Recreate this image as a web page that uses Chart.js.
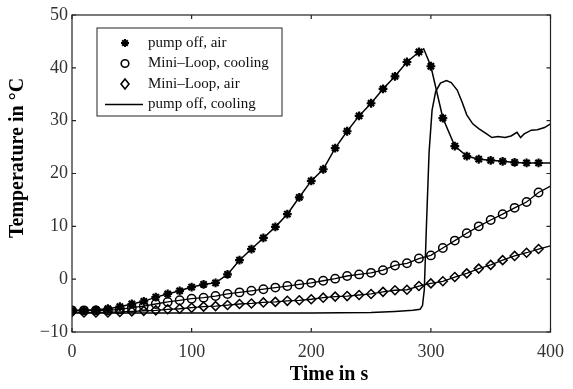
<!DOCTYPE html>
<html>
<head>
<meta charset="utf-8">
<script src="https://cdn.jsdelivr.net/npm/chart.js@4/dist/chart.umd.min.js"></script>
<style>
  body { margin: 0; background: #fff; }
</style>
</head>
<body>
<canvas id="tempChart" width="573" height="389"></canvas>
<script>
// pump off, air (markers every 10 s)
const pumpAirTime = [0, 10, 20, 30, 40, 50, 60, 70, 80, 90, 100, 110, 120, 130, 140, 150, 160, 170, 180, 190,
    200, 210, 220, 230, 240, 250, 260, 270, 280, 290, 294, 300, 310, 320, 330, 340, 350, 360, 370, 380, 390, 400];
const pumpAirTemp = [-5.9, -5.9, -5.8, -5.6, -5.2, -4.7, -4.2, -3.4, -2.8, -2.2, -1.5, -1.0, -0.7, 0.9, 3.6, 5.7, 7.8, 9.9, 12.3, 15.5,
    18.6, 20.8, 24.8, 28.0, 30.9, 33.3, 36.0, 38.4, 41.1, 43.0, 43.6, 40.3, 30.5, 25.2, 23.3, 22.7, 22.5, 22.3, 22.1, 22.0, 22.0, 22.0];

// Mini-Loop, cooling
const loopCoolTime = [0, 10, 20, 30, 40, 50, 60, 70, 80, 90, 100, 110, 120, 130, 140, 150, 160, 170, 180, 190,
    200, 210, 220, 230, 240, 250, 260, 270, 280, 290, 300, 310, 320, 330, 340, 350, 360, 370, 380, 390, 400];
const loopCoolTemp = [-5.9, -5.9, -5.9, -5.9, -5.7, -5.4, -5.1, -4.7, -4.3, -4.0, -3.7, -3.5, -3.2, -2.8, -2.5, -2.2, -1.9, -1.6, -1.3, -1.0,
    -0.7, -0.3, 0.1, 0.6, 0.9, 1.2, 1.7, 2.6, 3.0, 3.9, 4.5, 5.9, 7.3, 8.7, 10.0, 11.2, 12.3, 13.5, 14.6, 16.4, 17.6];

// Mini-Loop, air
const loopAirTime = loopCoolTime;
const loopAirTemp = [-6.2, -6.3, -6.3, -6.3, -6.2, -6.1, -6.0, -5.9, -5.7, -5.6, -5.4, -5.2, -5.1, -4.9, -4.7, -4.6, -4.4, -4.3, -4.1, -4.0,
    -3.8, -3.5, -3.3, -3.2, -3.0, -2.8, -2.4, -2.1, -2.0, -1.3, -0.8, -0.4, 0.4, 1.1, 2.0, 2.7, 3.6, 4.4, 5.0, 5.7, 6.3];

// pump off, cooling (line only)
const pumpCoolTime = [0, 50, 100, 150, 200, 250, 270, 285, 291, 293, 294.5, 296.5, 298.5, 301, 304, 308, 313, 317, 322, 326,
    330, 335, 340, 346, 351, 356, 362, 367, 372, 375, 378, 384, 389, 395, 400];
const pumpCoolTemp = [-6.4, -6.4, -6.4, -6.4, -6.4, -6.3, -6.1, -5.9, -5.7, -5.0, -2.0, 11.5, 24.0, 32.0, 35.5, 37.1, 37.6, 37.2, 35.8, 33.6,
    31.1, 29.4, 28.5, 27.6, 26.8, 27.0, 26.8, 27.1, 27.8, 26.8, 27.5, 28.2, 28.3, 28.7, 29.4];

const xTicks = [0, 100, 200, 300, 400];
const yTicks = [-10, 0, 10, 20, 30, 40, 50];
const legendLabels = ['pump off, air', 'Mini\u2013Loop, cooling', 'Mini\u2013Loop, air', 'pump off, cooling'];

const SERIF = "'Liberation Serif', 'Times New Roman', serif";

function pairs(xs, ys) {
    return xs.map((x, i) => ({ x: x, y: ys[i] }));
}

// markers only on the 10 s grid, not at the end point
function markerRadius(r) {
    return ctx => (ctx.raw && ctx.raw.x % 10 === 0 && ctx.raw.x < 400) ? r : 0;
}

// frame, inward ticks, axis titles and legend
const decorations = {
    id: 'decorations',
    afterDraw(chart) {
        const { ctx, chartArea: a, scales } = chart;
        ctx.save();
        ctx.strokeStyle = '#222';
        ctx.lineWidth = 1.2;
        ctx.strokeRect(a.left, a.top, a.right - a.left, a.bottom - a.top);

        const tl = 4;
        ctx.beginPath();
        xTicks.forEach(v => {
            const px = scales.x.getPixelForValue(v);
            ctx.moveTo(px, a.bottom); ctx.lineTo(px, a.bottom - tl);
            ctx.moveTo(px, a.top); ctx.lineTo(px, a.top + tl);
        });
        yTicks.forEach(v => {
            const py = scales.y.getPixelForValue(v);
            ctx.moveTo(a.left, py); ctx.lineTo(a.left + tl, py);
            ctx.moveTo(a.right, py); ctx.lineTo(a.right - tl, py);
        });
        ctx.stroke();

        // axis titles
        ctx.fillStyle = '#000';
        ctx.font = 'bold 20px ' + SERIF;
        ctx.textAlign = 'center';
        ctx.textBaseline = 'middle';
        ctx.fillText('Time in s', 329, 375);
        ctx.save();
        ctx.translate(18, 158);
        ctx.rotate(-Math.PI / 2);
        ctx.fillText('Temperature in \u00B0C', 0, 0);
        ctx.restore();

        // legend box
        const lx = 97, ly = 28, lw = 185, lh = 88;
        ctx.fillStyle = '#fff';
        ctx.fillRect(lx, ly, lw, lh);
        ctx.strokeStyle = '#222';
        ctx.lineWidth = 1;
        ctx.strokeRect(lx, ly, lw, lh);

        ctx.font = '15px ' + SERIF;
        ctx.textAlign = 'left';
        ctx.fillStyle = '#111';
        const sx = 125;
        legendLabels.forEach((label, i) => {
            const y = 43 + i * 20.5;
            ctx.fillText(label, 148, y);
            ctx.strokeStyle = '#000';
            ctx.beginPath();
            if (i === 0) {
                ctx.lineWidth = 2;
                const r = 4;
                for (let k = 0; k < 4; k++) {
                    const ang = k * Math.PI / 4;
                    ctx.moveTo(sx - r * Math.cos(ang), y - r * Math.sin(ang));
                    ctx.lineTo(sx + r * Math.cos(ang), y + r * Math.sin(ang));
                }
            } else if (i === 1) {
                ctx.lineWidth = 1.6;
                ctx.arc(sx, y, 3.8, 0, Math.PI * 2);
            } else if (i === 2) {
                ctx.lineWidth = 1.6;
                ctx.moveTo(sx, y - 5); ctx.lineTo(sx + 4, y); ctx.lineTo(sx, y + 5); ctx.lineTo(sx - 4, y); ctx.closePath();
            } else {
                ctx.lineWidth = 1.5;
                ctx.moveTo(105, y); ctx.lineTo(143, y);
            }
            ctx.stroke();
        });
        ctx.restore();
    }
};

function renderGraph() {
    const ctx = document.getElementById('tempChart').getContext('2d');
    new Chart(ctx, {
        type: 'line',
        data: {
            datasets: [
                {
                    label: legendLabels[3],
                    data: pairs(pumpCoolTime, pumpCoolTemp),
                    borderColor: '#000',
                    borderWidth: 1.5,
                    pointRadius: 0
                },
                {
                    label: legendLabels[2],
                    data: pairs(loopAirTime, loopAirTemp),
                    borderColor: '#000',
                    borderWidth: 1.3,
                    pointStyle: 'rectRot',
                    pointRadius: markerRadius(4.5),
                    pointBorderWidth: 1.5,
                    pointBackgroundColor: 'rgba(255,255,255,0)',
                    pointBorderColor: '#000'
                },
                {
                    label: legendLabels[1],
                    data: pairs(loopCoolTime, loopCoolTemp),
                    borderColor: '#000',
                    borderWidth: 1.3,
                    pointStyle: 'circle',
                    pointRadius: markerRadius(4.2),
                    pointBorderWidth: 1.5,
                    pointBackgroundColor: 'rgba(255,255,255,0)',
                    pointBorderColor: '#000'
                },
                {
                    label: legendLabels[0],
                    data: pairs(pumpAirTime, pumpAirTemp),
                    borderColor: '#000',
                    borderWidth: 1.5,
                    pointStyle: 'star',
                    pointRadius: markerRadius(4.4),
                    pointBorderWidth: 2.2,
                    pointBorderColor: '#000'
                }
            ]
        },
        options: {
            responsive: false,
            animation: false,
            layout: { padding: { top: 15, right: 17, left: 0, bottom: 0 } },
            plugins: {
                legend: { display: false },
                tooltip: { enabled: false }
            },
            scales: {
                x: {
                    type: 'linear',
                    min: 0,
                    max: 400,
                    afterFit: s => { s.height = 57; },
                    afterBuildTicks: s => { s.ticks = xTicks.map(v => ({ value: v })); },
                    grid: { display: false, drawTicks: false },
                    border: { display: false },
                    ticks: { padding: 9, color: '#333', font: { family: SERIF, size: 18 } }
                },
                y: {
                    min: -10,
                    max: 50,
                    afterFit: s => { s.width = 72; },
                    afterBuildTicks: s => { s.ticks = yTicks.map(v => ({ value: v })); },
                    grid: { display: false, drawTicks: false },
                    border: { display: false },
                    ticks: {
                        padding: 4,
                        color: '#333',
                        font: { family: SERIF, size: 18 },
                        callback: v => String(v).replace('-', '\u2212')
                    }
                }
            }
        },
        plugins: [decorations]
    });
}

document.addEventListener('DOMContentLoaded', renderGraph);
</script>
</body>
</html>
